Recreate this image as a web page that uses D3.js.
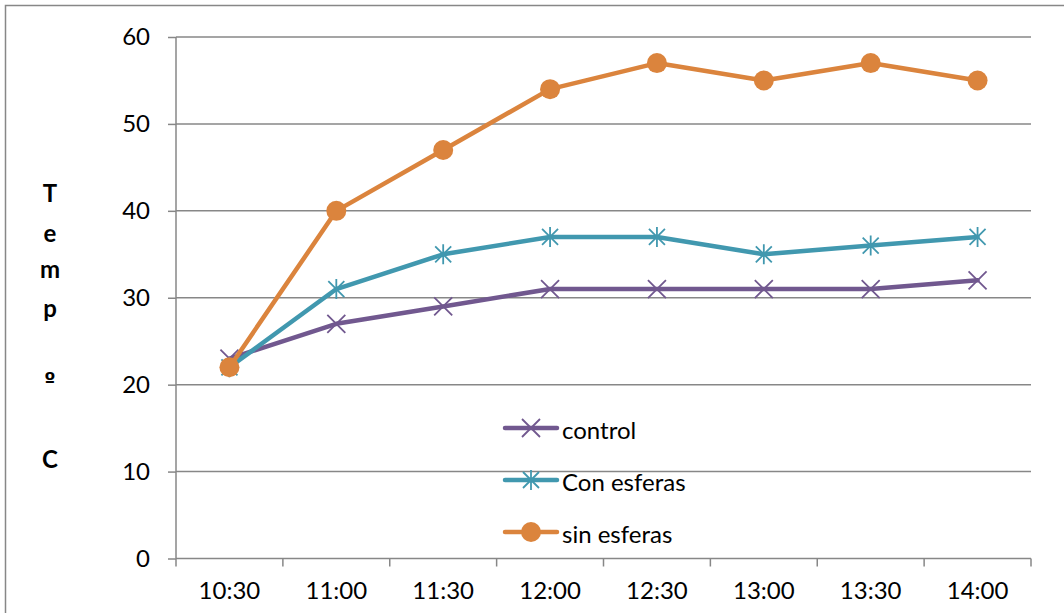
<!DOCTYPE html>
<html>
<head>
<meta charset="utf-8">
<script src="https://cdn.jsdelivr.net/npm/d3@7"></script>
<style>
  body { margin: 0; background: #fff; }
  svg { display: block; }
  text { font-family: Lato, "Open Sans", sans-serif; fill: #000; }
</style>
</head>
<body>
<svg id="chart" width="1064" height="613"></svg>
<script>
// Time of each reading
const categories = ["10:30", "11:00", "11:30", "12:00", "12:30", "13:00", "13:30", "14:00"];
// Temperature readings (ºC)
const control = [23, 27, 29, 31, 31, 31, 31, 32];
const conEsferas = [22, 31, 35, 37, 37, 35, 36, 37];
const sinEsferas = [22, 40, 47, 54, 57, 55, 57, 55];
const yTicks = [0, 10, 20, 30, 40, 50, 60];
const axisLetters = ["T", "e", "m", "p", "º", "C"];

const series = [
  { name: "control", values: control, color: "#71588F", marker: "x" },
  { name: "Con esferas", values: conEsferas, color: "#4198AF", marker: "star" },
  { name: "sin esferas", values: sinEsferas, color: "#DB843D", marker: "circle" }
];

const svg = d3.select("#chart");
const grid = "#878787";
const fontSize = 24;

// Outer chart frame
svg.append("rect")
  .attr("x", 5.5).attr("y", 5.5).attr("width", 1080).attr("height", 640)
  .attr("fill", "none").attr("stroke", grid).attr("stroke-width", 1.5);

const plotL = 176, plotR = 1031, plotT = 37, plotB = 558.5;

const x = d3.scaleBand().domain(categories).range([plotL, plotR]);
const y = d3.scaleLinear().domain([0, 60]).range([plotB, plotT]);

// Horizontal gridlines
svg.append("g").selectAll("line").data(yTicks.filter(d => d > 0)).join("line")
  .attr("x1", plotL).attr("x2", plotR)
  .attr("y1", d => y(d)).attr("y2", d => y(d))
  .attr("stroke", grid).attr("stroke-width", 1.5);

// Y axis
const yAxis = svg.append("g").attr("transform", `translate(${plotL},0)`)
  .call(d3.axisLeft(y).tickValues(yTicks).tickSize(8).tickPadding(18));
yAxis.select(".domain").attr("stroke", grid).attr("stroke-width", 1.5).attr("d", `M0,${plotT}V${plotB}`);
yAxis.selectAll(".tick line").attr("stroke", grid).attr("stroke-width", 1.5);
yAxis.selectAll(".tick text").attr("font-size", fontSize).attr("font-family", "Lato, sans-serif").attr("fill", "#000");

// X axis with ticks on band boundaries
const xAxis = svg.append("g").attr("transform", `translate(0,${plotB})`)
  .call(d3.axisBottom(x).tickSize(0).tickPadding(23));
xAxis.select(".domain").attr("stroke", grid).attr("stroke-width", 1.5).attr("d", `M${plotL},0H${plotR}`);
xAxis.selectAll(".tick text").attr("font-size", fontSize).attr("font-family", "Lato, sans-serif").attr("fill", "#000");
const bounds = categories.map(c => x(c)).concat([plotR]);
xAxis.selectAll(".bound").data(bounds).join("line").attr("class", "bound")
  .attr("x1", d => d).attr("x2", d => d).attr("y1", 0).attr("y2", 8)
  .attr("stroke", grid).attr("stroke-width", 1.5);

// Vertical axis title, one letter per row
const letterY = [192, 232, 268, 307, 380, 458];
svg.append("g").selectAll("text").data(axisLetters).join("text")
  .attr("x", 50).attr("y", (d, i) => letterY[i])
  .attr("text-anchor", "middle").attr("dominant-baseline", "central")
  .attr("font-size", 24).attr("font-weight", "bold")
  .style("font-family", d => d === "º" ? "'DejaVu Sans', sans-serif" : null)
  .style("font-size", d => d === "º" ? "20px" : null)
  .text(d => d);

function drawMarker(g, type, color) {
  if (type === "circle") {
    g.append("circle").attr("r", 10).attr("fill", color);
  } else if (type === "x") {
    g.append("path").attr("d", "M-9,-9L9,9M-9,9L9,-9")
      .attr("stroke", color).attr("stroke-width", 1.8).attr("fill", "none");
  } else {
    g.append("path").attr("d", "M-8,-8L8,8M-8,8L8,-8M0,-10V10")
      .attr("stroke", color).attr("stroke-width", 1.8).attr("fill", "none");
  }
}

const line = d3.line().x((d, i) => x(categories[i]) + x.bandwidth() / 2).y(d => y(d));

series.forEach(s => {
  const g = svg.append("g");
  g.append("path").datum(s.values).attr("d", line)
    .attr("fill", "none").attr("stroke", s.color).attr("stroke-width", 4.5)
    .attr("stroke-linejoin", "round").attr("stroke-linecap", "round");
  s.values.forEach((v, i) => {
    const m = g.append("g").attr("transform", `translate(${x(categories[i]) + x.bandwidth() / 2},${y(v)})`);
    drawMarker(m, s.marker, s.color);
  });
});

// Legend
const legendY = [428, 480, 532];
series.forEach((s, i) => {
  const g = svg.append("g").attr("transform", `translate(0,${legendY[i]})`);
  g.append("line").attr("x1", 505).attr("x2", 557).attr("y1", 0).attr("y2", 0)
    .attr("stroke", s.color).attr("stroke-width", 4.5).attr("stroke-linecap", "round");
  const m = g.append("g").attr("transform", "translate(531,0)");
  drawMarker(m, s.marker, s.color);
  g.append("text").attr("x", 562).attr("y", 1).attr("dominant-baseline", "central")
    .attr("font-size", fontSize).text(s.name);
});
</script>
</body>
</html>
